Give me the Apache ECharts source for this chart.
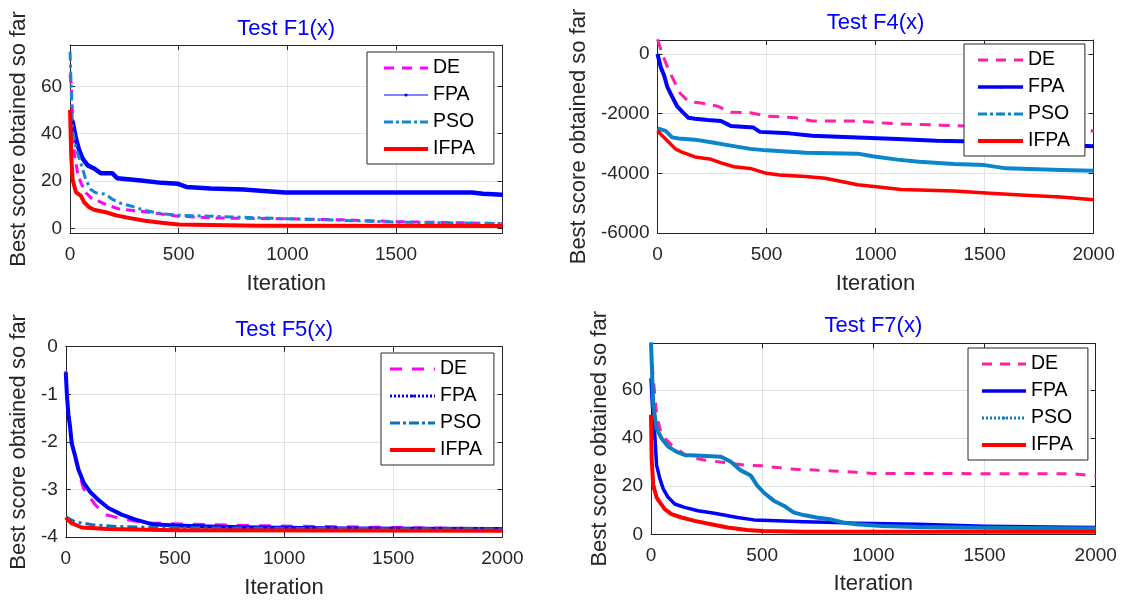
<!DOCTYPE html>
<html><head><meta charset="utf-8">
<script src="https://cdn.jsdelivr.net/npm/echarts@6/dist/echarts.min.js"></script>
<style>
html,body{margin:0;padding:0;background:#fff;}
#wrap{position:relative;width:1127px;height:604px;overflow:hidden;}
.c{position:absolute;}
</style></head><body>
<div id="wrap">
<div id="c1" class="c" style="left:0;top:0;width:560px;height:300px"></div>
<div id="c2" class="c" style="left:560px;top:0;width:567px;height:300px"></div>
<div id="c3" class="c" style="left:0;top:300px;width:560px;height:304px"></div>
<div id="c4" class="c" style="left:560px;top:300px;width:567px;height:304px"></div>
</div>
<script>
// ---- data: [iteration, best score] ----
const SERIES_NAMES = ['DE', 'FPA', 'PSO', 'IFPA'];
const TITLES = ['Test F1(x)', 'Test F4(x)', 'Test F5(x)', 'Test F7(x)'];
const X_NAME = 'Iteration';
const Y_NAME = 'Best score obtained so far';

const F1_DE = [[0,65],[5,61],[20,31.5],[35,23.3],[50,19.2],[73,15],[103,12.3],[133,11.4],[179,9.6],[224,8.2],[315,7.3],[406,6.2],[500,5.1],[648,4.4],[876,4.1],[1000,4.0],[1250,3.6],[1500,2.8],[1990,2.0]];
const F1_FPA = [[0,46],[12,45],[27,38],[42,33],[58,29.5],[80,26.7],[110,25.3],[141,23.3],[194,23.3],[217,21.2],[315,20.3],[421,19.2],[497,18.8],[535,17.5],[648,16.8],[800,16.4],[890,15.8],[990,15.1],[1850,15.1],[1900,14.6],[1990,14.2]];
const F1_PSO = [[0,74.7],[5,60],[12,41],[27,34],[50,27.4],[73,20.5],[95,16.4],[118,15],[164,14.4],[194,12.3],[239,10.3],[285,9.3],[345,7.5],[421,6.2],[500,5.5],[648,5.1],[876,4.4],[1000,4.0],[1200,3.5],[1500,2.6],[1990,2.0]];
const F1_IFPA = [[0,50],[6,30],[12,20.5],[27,15.3],[50,13.7],[65,11],[88,8.9],[110,7.8],[164,6.8],[209,5.5],[270,4.4],[345,3.2],[421,2.3],[500,1.6],[648,1.4],[876,1.1],[1990,1.0]];

const F4_DE = [[0,490],[22,0],[52,-550],[82,-990],[104,-1315],[142,-1590],[201,-1645],[276,-1750],[336,-1950],[425,-1970],[500,-2080],[634,-2140],[709,-2245],[918,-2245],[1010,-2300],[1100,-2340],[1300,-2385],[1450,-2420],[2000,-2580]];
const F4_FPA = [[0,0],[15,-440],[30,-710],[45,-1100],[67,-1425],[90,-1750],[112,-1920],[142,-2140],[172,-2170],[231,-2215],[291,-2245],[336,-2410],[440,-2465],[470,-2610],[604,-2660],[709,-2740],[918,-2795],[1100,-2852],[1280,-2907],[1450,-2930],[2000,-3092]];
const F4_PSO = [[0,-2490],[37,-2575],[67,-2795],[97,-2830],[172,-2870],[246,-2960],[336,-3070],[425,-3180],[500,-3230],[679,-3310],[918,-3340],[987,-3430],[1100,-3540],[1200,-3615],[1360,-3690],[1500,-3724],[1600,-3833],[1850,-3887],[2000,-3909]];
const F4_IFPA = [[0,-2575],[22,-2740],[52,-2960],[82,-3180],[112,-3290],[172,-3450],[246,-3530],[291,-3650],[351,-3780],[425,-3835],[500,-4000],[560,-4055],[679,-4110],[769,-4165],[918,-4385],[1004,-4453],[1117,-4540],[1361,-4595],[1524,-4671],[1687,-4736],[1850,-4790],[2000,-4888]];

const F5_DE = [[0,-0.51],[5,-1.0],[12,-1.42],[20,-1.7],[35,-2.23],[81,-2.98],[134,-3.32],[180,-3.53],[271,-3.63],[363,-3.7],[470,-3.72],[845,-3.76],[1500,-3.8],[2000,-3.83]];
const F5_FPA = [[0,-0.54],[5,-1.01],[12,-1.42],[20,-1.7],[27,-2.03],[43,-2.3],[58,-2.58],[81,-2.85],[111,-3.05],[149,-3.22],[195,-3.39],[256,-3.53],[317,-3.63],[393,-3.73],[500,-3.76],[652,-3.78],[881,-3.8],[1300,-3.82],[2000,-3.83]];
const F5_PSO = [[0,-3.58],[43,-3.68],[119,-3.74],[241,-3.78],[424,-3.8],[1000,-3.82],[2000,-3.83]];
const F5_IFPA = [[0,-3.59],[27,-3.71],[73,-3.8],[195,-3.83],[500,-3.86],[2000,-3.87]];

const F7_DE = [[0,78.5],[10,65],[25,50],[47,41.4],[92,37.2],[166,32.3],[240,30.9],[329,29.9],[418,28.8],[500,28.5],[611,27.3],[760,26.6],[908,25.9],[1000,25.3],[1900,25.2],[2000,24.3]];
const F7_FPA = [[0,65],[6,54],[18,40],[25,28.8],[40,23.1],[55,18.9],[77,15.4],[107,12.6],[151,11.2],[211,9.8],[285,8.8],[389,7],[463,6],[567,5.6],[686,5.2],[834,4.9],[923,4.6],[1200,4.2],[1500,3.3],[2000,2.8]];
const F7_PSO = [[0,79.9],[10,54],[25,44],[47,40],[77,36.5],[114,34.4],[151,33],[226,32.7],[315,32.3],[359,30.2],[404,26.6],[448,24.5],[478,20.3],[508,17.3],[552,14],[597,11.9],[641,9.1],[686,8],[745,7],[804,6.3],[864,4.9],[923,4.2],[1037,3.5],[1200,3.0],[1500,2.7],[2000,2.4]];
const F7_IFPA = [[0,49.8],[3,31.5],[10,20.3],[25,15.4],[40,13.3],[62,10.5],[92,8.4],[137,7],[196,5.6],[270,4.2],[344,2.8],[433,1.8],[500,1.4],[686,1.1],[2000,1.1]];

// ---- styling / layout ----
const FONT = '"Liberation Sans", Arial, Helvetica, sans-serif';
const AX = '#262626';
const GRIDC = '#e3e3e3';
const fmt = v => String(v);

function axisCommon(extra) {
  return Object.assign({
    type: 'value',
    axisLine: { show: true, onZero: false, lineStyle: { color: AX, width: 1 } },
    axisTick: { show: true, inside: true, length: 5, lineStyle: { color: AX, width: 1 } }
  }, extra);
}

function makeOption(p) {
  const xBase = { min: p.x[0], max: p.x[1], interval: 500 };
  const yBase = { min: p.y[0], max: p.y[1] };
  if (p.yInterval) yBase.interval = p.yInterval; else yBase.splitNumber = p.ySplit;
  const series = p.series.map((s, i) => ({
    type: 'line',
    name: SERIES_NAMES[i],
    data: s.data,
    xAxisIndex: 0, yAxisIndex: 0,
    symbol: s.dot ? 'circle' : 'none',
    symbolSize: 3,
    showSymbol: false,
    color: s.color,
    itemStyle: { color: s.color },
    lineStyle: { color: s.color, width: s.width, type: s.type || 'solid', cap: 'butt', join: 'round' },
    silent: true,
    z: 2 + i
  }));
  return {
    animation: false,
    grid: { left: p.grid[0], top: p.grid[1], width: p.grid[2], height: p.grid[3], containLabel: false },
    xAxis: [
      axisCommon(Object.assign({}, xBase, {
        position: 'bottom',
        axisLabel: { color: AX, fontSize: 19, fontFamily: FONT, margin: 12, formatter: fmt, showMinLabel: true, showMaxLabel: p.xMaxLabel },
        splitLine: { show: true, lineStyle: { color: GRIDC, width: 1 } },
        name: X_NAME, nameLocation: 'middle', nameGap: p.xGap,
        nameTextStyle: { color: AX, fontSize: 22, fontFamily: FONT }
      })),
      axisCommon(Object.assign({}, xBase, {
        position: 'top',
        axisLabel: { show: false },
        splitLine: { show: false },
        name: p.title, nameLocation: 'middle', nameGap: p.tGap,
        nameTextStyle: { color: '#0000ff', fontSize: 22, fontFamily: FONT }
      }))
    ],
    yAxis: [
      axisCommon(Object.assign({}, yBase, {
        position: 'left',
        axisLabel: { color: AX, fontSize: 19, fontFamily: FONT, margin: 8, formatter: fmt, showMinLabel: p.yMinLabel, showMaxLabel: p.yMaxLabel },
        splitLine: { show: true, lineStyle: { color: GRIDC, width: 1 } },
        name: Y_NAME, nameLocation: 'middle', nameGap: p.yGap,
        nameTextStyle: { color: AX, fontSize: 22, fontFamily: FONT }
      })),
      axisCommon(Object.assign({}, yBase, {
        position: 'right',
        axisLabel: { show: false },
        splitLine: { show: false }
      }))
    ],
    legend: {
      orient: 'vertical',
      left: p.legend.left, top: p.legend.top,
      padding: p.legend.padding,
      itemWidth: p.legend.itemWidth, itemHeight: 4, itemGap: 7,
      backgroundColor: '#ffffff',
      borderColor: AX, borderWidth: 1, borderRadius: 0,
      selectedMode: false,
      textStyle: { color: '#000', fontSize: 19.5, fontFamily: FONT, lineHeight: 20 },
      data: p.series.map((s, i) => ({
        name: SERIES_NAMES[i],
        itemStyle: { opacity: s.dot ? 1 : 0 },
        lineStyle: { width: s.lw, type: s.ltype || 'solid', cap: 'butt' }
      }))
    },
    series: series
  };
}

const MAG = '#ff00ff', PINK = '#ff1fa5', BLUE = '#0000ff', RED = '#ff0000';

const opts = [
  { el: 'c1', title: TITLES[0], grid: [67, 45, 435.5, 198], x: [0, 1990], xMaxLabel: false,
    y: [-2, 77.5], ySplit: 4, yMinLabel: false, yMaxLabel: false, xGap: 40, yGap: 36, tGap: 5,
    legend: { left: 367, top: 52, padding: [6, 19, 5, 15], itemWidth: 44 },
    series: [
      { data: F1_DE, color: MAG, width: 3, type: [9, 6], lw: 3, ltype: [10, 8] },
      { data: F1_FPA, color: BLUE, width: 4.5, dot: true, lw: 1 },
      { data: F1_PSO, color: '#1688d0', width: 3, type: [9, 4, 3, 4], lw: 3, ltype: [9, 3, 3, 3] },
      { data: F1_IFPA, color: RED, width: 4, lw: 4 }
    ] },
  { el: 'c2', title: TITLES[1], grid: [94, 40, 439.6, 202], x: [0, 2000], xMaxLabel: true,
    y: [-6000, 470], yInterval: 2000, yMinLabel: true, yMaxLabel: false, xGap: 40, yGap: 67, tGap: 6,
    legend: { left: 404, top: 44, padding: [6, 15, 5, 12], itemWidth: 45 },
    series: [
      { data: F4_DE, color: PINK, width: 3, type: [11, 8], lw: 3, ltype: [10, 8] },
      { data: F4_FPA, color: BLUE, width: 4, dot: true, lw: 3.5 },
      { data: F4_PSO, color: '#0a87cc', width: 4, dot: true, lw: 3, ltype: [9, 3, 3, 3] },
      { data: F4_IFPA, color: RED, width: 3.5, lw: 4 }
    ] },
  { el: 'c3', title: TITLES[2], grid: [65.4, 46.7, 437, 198.6], x: [0, 2000], xMaxLabel: true,
    y: [-4, 0], yInterval: 1, yMinLabel: true, yMaxLabel: true, xGap: 40, yGap: 33, tGap: 6,
    legend: { left: 381, top: 53, padding: [6, 12, 5, 7], itemWidth: 45 },
    series: [
      { data: F5_DE, color: MAG, width: 3, type: [12, 10], lw: 3, ltype: [12, 10] },
      { data: F5_FPA, color: BLUE, width: 4, dot: true, lw: 3, ltype: [2, 2] },
      { data: F5_PSO, color: '#0a72b8', width: 3, type: [10, 4, 3, 4], lw: 3, ltype: [10, 3, 3, 3] },
      { data: F5_IFPA, color: RED, width: 4, lw: 4 }
    ] },
  { el: 'c4', title: TITLES[3], grid: [91, 43.3, 444.7, 191], x: [0, 2000], xMaxLabel: true,
    y: [0, 79.5], yInterval: 20, yMinLabel: true, yMaxLabel: false, xGap: 39, yGap: 35, tGap: 6,
    legend: { left: 408, top: 48, padding: [6, 15, 5, 12], itemWidth: 44 },
    series: [
      { data: F7_DE, color: PINK, width: 3, type: [10, 9], lw: 3, ltype: [10, 8] },
      { data: F7_FPA, color: BLUE, width: 3.5, lw: 3.5 },
      { data: F7_PSO, color: '#0a7ec2', width: 4, dot: true, lw: 3, ltype: [2, 2] },
      { data: F7_IFPA, color: RED, width: 4, lw: 4 }
    ] }
];

opts.forEach(p => {
  const chart = echarts.init(document.getElementById(p.el), null, { renderer: 'canvas' });
  chart.setOption(makeOption(p));
});
</script>
</body></html>
